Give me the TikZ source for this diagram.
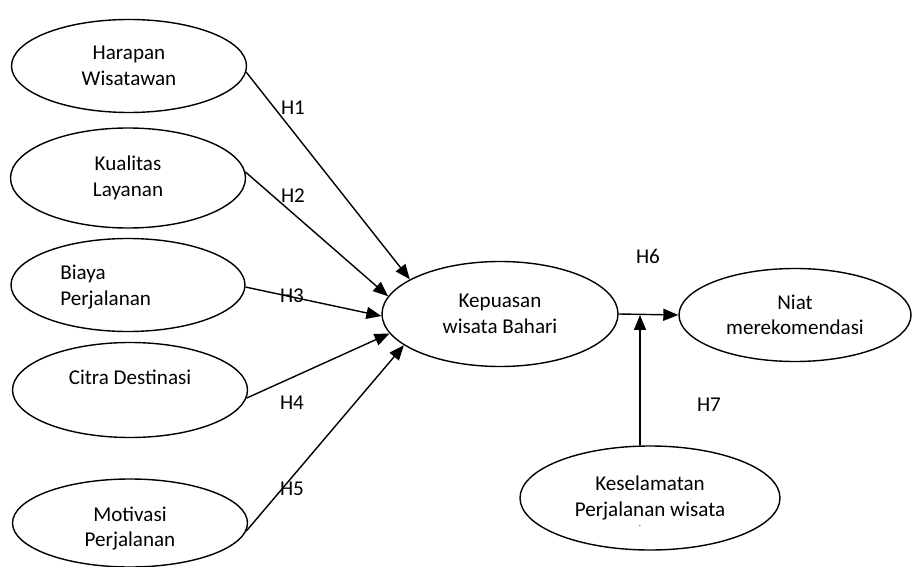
\documentclass[tikz,border=0pt]{standalone}
\usepackage{fontspec}
\setmainfont{Carlito}
\usetikzlibrary{arrows.meta, shapes.geometric}

\begin{document}
\begin{tikzpicture}[
  x=0.02cm, y=-0.02cm,
  font=\fontsize{12}{14.5}\selectfont,
  var/.style 2 args={ellipse, draw, line width=0.8pt, inner sep=0pt,
    minimum width=#1*0.02cm, minimum height=#2*0.02cm, align=center},
  txt/.style={inner sep=0pt, align=left},
  lbl/.style={inner sep=0pt},
  arr/.style={-{Triangle[length=0.3cm, width=0.24cm]}, line width=0.8pt},
]
  \useasboundingbox (0,0) rectangle (912,567);

  % Independent variables
  \node[var={235}{93}] (harapan) at (129, 66) {Harapan\\Wisatawan};
  \node[var={235}{100}] (kualitas) at (128, 178) {Kualitas\\Layanan};
  \node[var={234}{93}] (biaya) at (128, 285) {};
  \node[txt, anchor=west] (biayatxt) at (60, 287) {Biaya\\Perjalanan};
  \node[var={235}{95}] (citra) at (130, 390) {Citra Destinasi\\\mbox{}};
  \node[var={235}{88}] (motivasi) at (130, 523) {\mbox{}\\Motivasi\\Perjalanan};

  % Satisfaction, intention and moderator
  \node[var={236}{105}] (kepuasan) at (500, 314) {Kepuasan\\wisata Bahari};
  \node[var={232}{93}] (niat) at (795, 315) {Niat\\merekomendasi};
  \node[var={260}{104}] (keselamatan) at (650, 498) {Keselamatan\\Perjalanan wisata};
  \node[lbl, font=\tiny] (kesdot) at (640, 526) {.};

  % Paths to satisfaction
  \draw[arr] (harapan.-3) -- (kepuasan.159);
  \draw[arr] (kualitas.3) -- (kepuasan.171);
  \draw[arr] (biaya.-1) -- (kepuasan.181);
  \draw[arr] (citra.-4) -- (kepuasan.190);
  \draw[arr] (motivasi.-4) -- (kepuasan.198);

  % Satisfaction -> intention, moderated by safety
  \draw[arr] (kepuasan.east) -- (niat.west);
  \coordinate (joint) at (640, 315);
  \draw[arr] (joint |- keselamatan.north) -- (joint);

  % Hypothesis labels
  \node[lbl] (h1) at (293, 108) {H1};
  \node[lbl] (h2) at (293, 196) {H2};
  \node[lbl] (h3) at (292, 296) {H3};
  \node[lbl] (h4) at (292, 403) {H4};
  \node[lbl] (h5) at (292, 489) {H5};
  \node[lbl] (h6) at (648, 256) {H6};
  \node[lbl] (h7) at (709, 405) {H7};

\end{tikzpicture}
\end{document}
